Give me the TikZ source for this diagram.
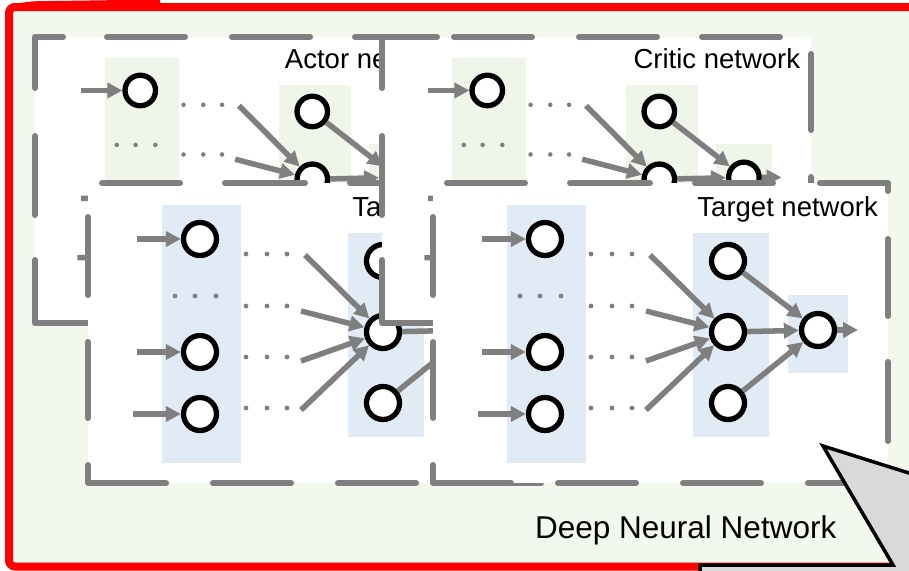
\documentclass[tikz,border=0pt]{standalone}
\usepackage{fontspec}
\setmainfont{Liberation Sans}
\usetikzlibrary{arrows.meta}

\definecolor{bggreen}{HTML}{F3F8EE}
\definecolor{colgreen}{HTML}{EFF5E8}
\definecolor{colblue}{HTML}{E0EBF6}
\definecolor{linegray}{HTML}{7F7F7F}
\definecolor{calloutgray}{HTML}{D9D9D9}

\tikzset{
  neuron/.style={circle, draw=black, line width=5.3pt, fill=white, inner sep=0pt},
  arr/.style={draw=linegray, line width=5.5pt, -{Triangle[length=15pt,width=15pt]}},
  dashseg/.style={draw=linegray, line width=6pt, line cap=round, line join=round},
  nettitle/.style={font=\fontsize{27.5}{33}\selectfont, anchor=base east, inner sep=0pt},
}

% One network: prefix, origin x, origin y, x scale, y scale, column colour, neuron size, title
\newcommand\netbody[8]{%
  \begin{scope}[shift={(#2,#3)}, xscale=#4, yscale=#5]
    \fill[#6] (74,22) rectangle (153,280);
    \fill[#6] (260,50) rectangle (336,254);
    \fill[#6] (355,112) rectangle (415,190);
    \node[nettitle] (#1title) at (445,33.5) {#8};
    % input, hidden and output neurons
    \node[neuron, minimum size=#7] (#1i1) at (112,56) {};
    \node[neuron, minimum size=#7] (#1i2) at (112,169) {};
    \node[neuron, minimum size=#7] (#1i3) at (112,231) {};
    \node[neuron, minimum size=#7] (#1h1) at (295,78) {};
    \node[neuron, minimum size=#7] (#1h2) at (295,149) {};
    \node[neuron, minimum size=#7] (#1h3) at (295,220) {};
    \node[neuron, minimum size=#7] (#1o) at (385,147) {};
    % free ends of the connectors
    \coordinate (#1s1) at (49,56);
    \coordinate (#1s2) at (49,169);
    \coordinate (#1s3) at (45,231);
    \coordinate (#1t1) at (217,72);
    \coordinate (#1t2) at (213,128);
    \coordinate (#1t3) at (213,178);
    \coordinate (#1t4) at (213,227);
    \coordinate (#1out) at (425,147);
    % ellipsis dots
    \foreach \x in {87,107,128} \fill[linegray] (\x,113) circle[radius=2.4];
    \foreach \y in {71,123,174,225}
      \foreach \x in {158,179,199} \fill[linegray] (\x,\y) circle[radius=2.4];
    % connectors
    \draw[arr] (#1s1) -- (#1i1);
    \draw[arr] (#1s2) -- (#1i2);
    \draw[arr] (#1s3) -- (#1i3);
    \draw[arr] (#1t1) -- (#1h2);
    \draw[arr] (#1t2) -- (#1h2);
    \draw[arr] (#1t3) -- (#1h2);
    \draw[arr] (#1t4) -- (#1h2);
    \draw[arr] (#1h1) -- (#1o);
    \draw[arr] (#1h2) -- (#1o);
    \draw[arr] (#1h3) -- (#1o);
    \draw[arr] (#1o) -- (#1out);
  \end{scope}}

% Dashed frame of a large panel (455 x 300)
\newcommand\bigframe[2]{%
  \begin{scope}[shift={(#1,#2)}]
    \draw[dashseg] (14,0)--(92,0) (137,0)--(217,0) (262,0)--(340,0)
      (387,0)--(455,0)--(455,8)
      (455,56)--(455,133) (455,179)--(455,258)
      (453,300)--(375,300) (328,300)--(250,300) (203,300)--(125,300)
      (78,300)--(0,300)--(0,282)
      (0,235)--(0,159) (0,112)--(0,34);
  \end{scope}}

% Dashed frame of a small panel (429 x 286); #3 = length of the top-left corner dash
\newcommand\smallframe[3]{%
  \begin{scope}[shift={(#1,#2)}]
    \draw[dashseg] (0,51)--(0,0)--(#3,0)
      (72,0)--(150,0) (197,0)--(275,0) (320,0)--(398,0)
      (429,17)--(429,93) (429,140)--(429,218) (429,263)--(429,286)--(410,286)
      (367,286)--(289,286) (244,286)--(166,286) (121,286)--(53,286)--(0,286)--(0,223)
      (0,178)--(0,99);
  \end{scope}}

\begin{document}
\begin{tikzpicture}[x=1pt, y=-1pt]
  \useasboundingbox (0,0) rectangle (909,570);

  % outer red frame
  \fill[red] (12,4) -- (33,1.3) -- (160,-0.5) -- (160,4) -- cycle;
  \draw[red, line width=8pt, fill=bggreen, rounded corners=6pt] (9,7) rectangle (940,566.5);

  % actor network (back)
  \fill[white] (35,37) rectangle (464,323);
  \netbody{act}{35}{37}{0.94}{0.955}{colgreen}{30.5pt}{Actor network}
  \smallframe{35}{37}{28}

  % left target network
  \fill[white] (88,183) rectangle (543,483);
  \netbody{tgl}{88}{183}{1}{1}{colblue}{33pt}{Target network}
  \bigframe{88}{183}

  % critic network
  \fill[white] (382,37) rectangle (811,323);
  \netbody{cri}{382}{37}{0.94}{0.955}{colgreen}{30.5pt}{Critic network}
  \smallframe{382}{37}{55}

  % right target network (front)
  \fill[white] (433,183) rectangle (888,483);
  \netbody{tgr}{433}{183}{1}{1}{colblue}{33pt}{Target network}
  \bigframe{433}{183}

  % caption
  \node[font=\fontsize{31.5}{38}\selectfont, anchor=base west, inner sep=0pt] (dnn) at (535,538) {Deep Neural Network};

  % callout in the lower right corner
  \draw[fill=calloutgray, draw=black, line width=3.5pt, line join=miter]
    (700,620) -- (700,565) -- (893,565) -- (823,446) -- (1000,501.6) -- (1000,620) -- cycle;
\end{tikzpicture}
\end{document}
